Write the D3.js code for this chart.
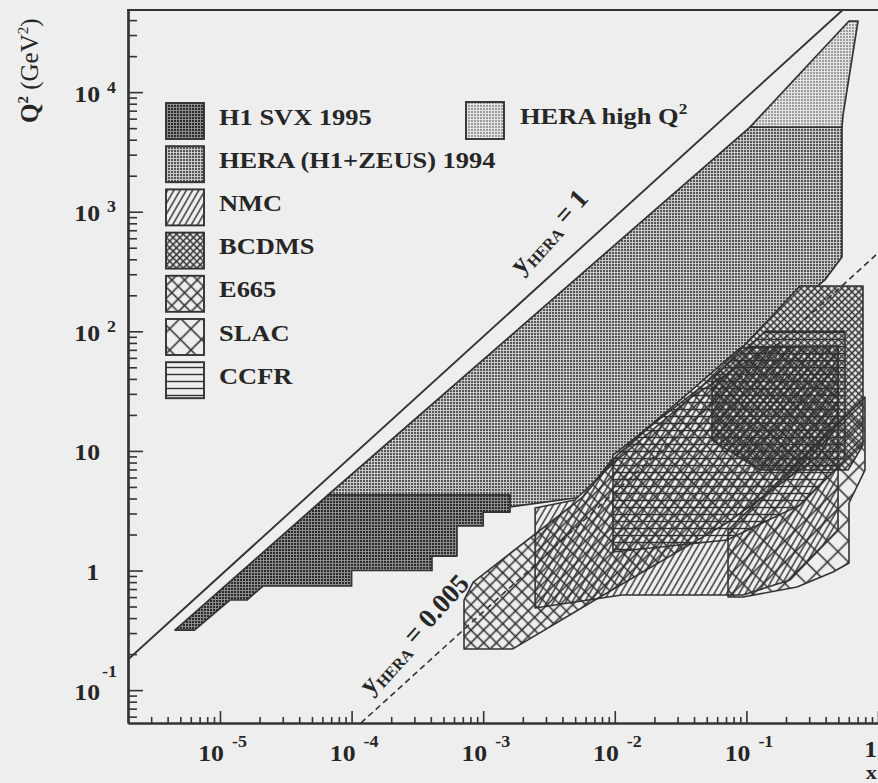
<!DOCTYPE html>
<html>
<head>
<meta charset="utf-8">
<script src="https://cdn.jsdelivr.net/npm/d3@7"></script>
<style>
  html, body { margin: 0; padding: 0; background: #eeeeee; }
  svg { display: block; }
  text { font-family: "Liberation Serif", "DejaVu Serif", serif; font-weight: bold; fill: #262626; }
</style>
</head>
<body>
<svg id="chart" width="878" height="783"></svg>
<script>
// ---- kinematic plane (x, Q^2) covered by DIS experiments ----
const sHERA = 90200;               // centre-of-mass energy squared at HERA, GeV^2
const yLines = [1, 0.005];          // lines of constant inelasticity y

const xTicks = [1e-5, 1e-4, 1e-3, 1e-2, 1e-1, 1];
const xTickExp = ["-5", "-4", "-3", "-2", "-1", ""];
const yTicks = [0.1, 1, 10, 100, 1000, 10000];
const yTickExp = ["-1", "", "", "2", "3", "4"];

// region outlines as [x, Q^2] vertices
const heraHighQ2 = [[0.1065, 5100], [0.602, 39300], [0.705, 39300], [0.542, 6435], [0.5325, 5100]];
const hera1994 = [[6.62e-5, 4.28], [0.1065, 5100], [0.5325, 5100], [0.5325, 418], [0.3935, 268],
                  [0.0104, 9.6], [0.00573, 4.12], [0.0016, 3.40], [0.0016, 4.28]];
const h1svx1995 = [[4.55e-6, 0.318], [6.62e-5, 4.28], [0.0016, 4.28], [0.0016, 3.08], [0.001, 3.08],
                   [0.001, 2.36], [6.32e-4, 2.36], [6.32e-4, 1.32], [4.08e-4, 1.32], [4.08e-4, 1.0],
                   [1.0e-4, 1.0], [1.0e-4, 0.742], [2.12e-5, 0.742], [1.60e-5, 0.567], [1.19e-5, 0.567],
                   [6.4e-6, 0.318]];
const nmc = [[2.48e-3, 3.33], [2.48e-3, 0.486], [0.0113, 0.624], [0.0942, 0.624], [0.2145, 0.833],
             [0.497, 2.18], [0.497, 75], [0.151, 75], [0.0373, 27.7], [0.0104, 8.39], [4.98e-3, 3.89]];
const bcdms = [[0.2555, 239], [0.769, 239], [0.769, 11.2], [0.592, 6.92], [0.1269, 6.92],
               [0.0548, 12.3], [0.0548, 39.2]];
const e665 = [[7.15e-4, 0.567], [7.15e-4, 0.221], [1.68e-3, 0.221], [7.72e-3, 0.600], [0.0712, 2.50],
              [0.362, 9.24], [0.497, 18.1], [0.497, 75], [0.0894, 72.5], [0.0104, 9.24],
              [5.73e-3, 4.12], [8.4e-4, 0.80]];
const slac = [[0.0725, 2.18], [0.0725, 0.600], [0.0942, 0.600], [0.2424, 0.728], [0.455, 0.972],
              [0.602, 1.155], [0.602, 3.67], [0.796, 6.92], [0.796, 28.2]];
const ccfr = [[9.69e-3, 9.24], [9.69e-3, 1.43], [0.0712, 1.80], [0.2555, 3.53], [0.561, 8.39],
              [0.561, 100], [0.14, 100], [0.0444, 33.6]];

const legendLeft = ["H1 SVX 1995", "HERA (H1+ZEUS) 1994", "NMC", "BCDMS", "E665", "SLAC", "CCFR"];
const legendLeftPat = ["svxDots", "heraDots", "nmcHatch", "bcdmsHatch", "e665Hatch", "slacHatch", "ccfrHatch"];

// ---- scales ----
const svg = d3.select("#chart");
const x = d3.scaleLog().domain([2e-6, 1]).range([128, 878]);
const y = d3.scaleLog().domain([0.0531, 48600]).range([723, 10]);
const ink = "#333333";
const paper = "#eeeeee";

svg.append("rect").attr("width", 878).attr("height", 783).attr("fill", paper);

// ---- fill patterns ----
const defs = svg.append("defs");
function dots(id, bg, fg) {
  const p = defs.append("pattern").attr("id", id).attr("patternUnits", "userSpaceOnUse")
    .attr("width", 3).attr("height", 3);
  p.append("rect").attr("width", 3).attr("height", 3).attr("fill", bg);
  p.append("rect").attr("width", 2).attr("height", 2).attr("fill", fg);
}
function hatch(id, size, angle, cross, sw) {
  const p = defs.append("pattern").attr("id", id).attr("patternUnits", "userSpaceOnUse")
    .attr("width", size).attr("height", size).attr("patternTransform", `rotate(${angle})`);
  const c = size / 2;
  let d = `M${c},0V${size}`;
  if (cross) d += `M0,${c}H${size}`;
  p.append("path").attr("d", d).attr("stroke", "#303030").attr("stroke-width", sw).attr("fill", "none");
}
dots("svxDots", "#8c8c8c", "#2a2a2a");
dots("heraDots", "#c8c8c8", "#555555");
dots("highDots", "#e4e4e4", "#9c9c9c");
hatch("nmcHatch", 5.4, 30, false, 1.4);
hatch("ccfrHatch", 7, 90, false, 1.4);
hatch("e665Hatch", 9, 45, true, 1.6);
hatch("slacHatch", 15, 45, true, 1.6);
hatch("bcdmsHatch", 4.8, 45, true, 1.6);

defs.append("clipPath").attr("id", "plotClip")
  .append("rect").attr("x", 128).attr("y", 10).attr("width", 750).attr("height", 713);

const plot = svg.append("g").attr("clip-path", "url(#plotClip)");
const poly = d3.line().x(d => x(d[0])).y(d => y(d[1]));
const closed = pts => poly(pts) + "Z";

// collider regions
[[hera1994, "heraDots"], [heraHighQ2, "highDots"], [h1svx1995, "svxDots"]].forEach(([pts, pat]) => {
  plot.append("path").attr("d", closed(pts)).attr("fill", `url(#${pat})`)
    .attr("stroke", ink).attr("stroke-width", 1.7).attr("stroke-linejoin", "round");
});

// fixed-target regions: blank underlay, hatching, outlines
const fixedTarget = [[slac, "slacHatch"], [e665, "e665Hatch"], [nmc, "nmcHatch"], [ccfr, "ccfrHatch"], [bcdms, "bcdmsHatch"]];
fixedTarget.forEach(([pts]) => plot.append("path").attr("d", closed(pts)).attr("fill", paper));
fixedTarget.forEach(([pts, pat]) => plot.append("path").attr("d", closed(pts)).attr("fill", `url(#${pat})`));
fixedTarget.forEach(([pts]) => plot.append("path").attr("d", closed(pts)).attr("fill", "none")
  .attr("stroke", ink).attr("stroke-width", 1.6).attr("stroke-linejoin", "round"));

// constant-y lines  Q^2 = s x y
yLines.forEach(yv => {
  const x0 = Math.max(x.domain()[0], y.domain()[0] / (sHERA * yv));
  const x1 = Math.min(x.domain()[1], y.domain()[1] / (sHERA * yv));
  plot.append("path").attr("d", poly([[x0, sHERA * yv * x0], [x1, sHERA * yv * x1]]))
    .attr("stroke", ink).attr("stroke-width", yv === 1 ? 1.9 : 1.6).attr("fill", "none")
    .attr("stroke-dasharray", yv === 1 ? null : "6,4");
});

// labels along the constant-y lines
function yLabel(yv, xAt, offset, valueText) {
  const px = x(xAt), py = y(sHERA * yv * xAt);
  const ang = -48;
  const r = ang * Math.PI / 180;
  const nx = Math.sin(r), ny = -Math.cos(r);   // unit normal pointing up-left
  const t = svg.append("text")
    .attr("transform", `translate(${px + nx * offset},${py + ny * offset}) rotate(${ang})`)
    .attr("font-size", 27);
  t.append("tspan").text("y");
  t.append("tspan").attr("font-size", 16).attr("dy", 5).text("HERA");
  t.append("tspan").attr("dy", -5).text(" = " + valueText);
}
yLabel(1, 2.52e-3, 20, "1");
yLabel(0.005, 1.67e-4, 14, "0.005");

// ---- axes ----
function minors(lo, hi) {
  const out = [];
  for (let e = Math.floor(Math.log10(lo)); e <= Math.ceil(Math.log10(hi)); e++)
    for (let k = 2; k <= 9; k++) { const v = k * Math.pow(10, e); if (v > lo * 1.001 && v < hi * 0.999) out.push(v); }
  return out;
}
const axStyle = g => { g.selectAll("path, line").attr("stroke", ink); g.select(".domain").attr("stroke-width", 2.2); g.selectAll(".tick line").attr("stroke-width", 1.6); };

svg.append("g").attr("transform", "translate(0,723)")
  .call(d3.axisBottom(x).tickValues(xTicks).tickSizeInner(-12).tickSizeOuter(0).tickFormat(""))
  .call(axStyle);
svg.append("g").attr("transform", "translate(0,723)")
  .call(d3.axisBottom(x).tickValues(minors(2e-6, 1)).tickSizeInner(-6).tickSizeOuter(0).tickFormat(""))
  .call(axStyle);
svg.append("g").attr("transform", "translate(128,0)")
  .call(d3.axisLeft(y).tickValues(yTicks).tickSizeInner(-15).tickSizeOuter(0).tickFormat(""))
  .call(axStyle);
svg.append("g").attr("transform", "translate(128,0)")
  .call(d3.axisLeft(y).tickValues(minors(0.0531, 48600)).tickSizeInner(-9).tickSizeOuter(0).tickFormat(""))
  .call(axStyle);
svg.append("line").attr("x1", 127).attr("x2", 878).attr("y1", 10).attr("y2", 10)
  .attr("stroke", ink).attr("stroke-width", 2.2);

// horizontally widened serif text
function wtext(px, py, str, size, anchor, sx) {
  return svg.append("g").attr("transform", `translate(${px},${py}) scale(${sx || 1.12},1)`)
    .append("text").attr("font-size", size).attr("text-anchor", anchor || "start").text(str);
}

// tick labels
xTicks.forEach((v, i) => {
  const px = x(v);
  if (xTickExp[i] === "") { wtext(px - 1, 757, "1", 23, "end"); return; }
  wtext(px + 4, 761, "10", 23, "end");
  wtext(px + 12, 747, xTickExp[i], 16);
});
yTicks.forEach((v, i) => {
  const py = y(v);
  if (v === 1) { wtext(99, py + 9.5, "1", 23, "end"); return; }
  wtext(100, py + 9.5, "10", 23, "end");
  if (yTickExp[i] === "-1") wtext(102, py - 13, "-1", 16);
  else if (yTickExp[i]) wtext(107, py + 0.5, yTickExp[i], 16);
});

// axis titles
wtext(877, 779, "x", 18, "end", 1.25);
const yt = svg.append("text").attr("transform", "translate(38,123) rotate(-90)").attr("font-size", 25);
yt.append("tspan").text("Q");
yt.append("tspan").attr("font-size", 15).attr("dy", -10).text("2");
yt.append("tspan").attr("dy", 10).attr("font-weight", "normal").text(" (GeV");
yt.append("tspan").attr("font-size", 15).attr("dy", -10).attr("font-weight", "normal").text("2");
yt.append("tspan").attr("dy", 10).attr("font-weight", "normal").text(")");

// ---- legend ----
legendLeft.forEach((name, i) => {
  const top = 103 + i * 43.2;
  svg.append("rect").attr("x", 166).attr("y", top).attr("width", 38).attr("height", 36)
    .attr("fill", `url(#${legendLeftPat[i]})`).attr("stroke", ink).attr("stroke-width", 1.9);
  wtext(219, top + 21.5, name, 23, "start", 1.15);
});
svg.append("rect").attr("x", 466).attr("y", 102).attr("width", 38).attr("height", 37)
  .attr("fill", "url(#highDots)").attr("stroke", ink).attr("stroke-width", 1.9);
const hq = svg.append("g").attr("transform", "translate(520,123.5) scale(1.15,1)")
  .append("text").attr("font-size", 23);
hq.append("tspan").text("HERA high Q");
hq.append("tspan").attr("font-size", 15).attr("dy", -10).text("2");
</script>
</body>
</html>
